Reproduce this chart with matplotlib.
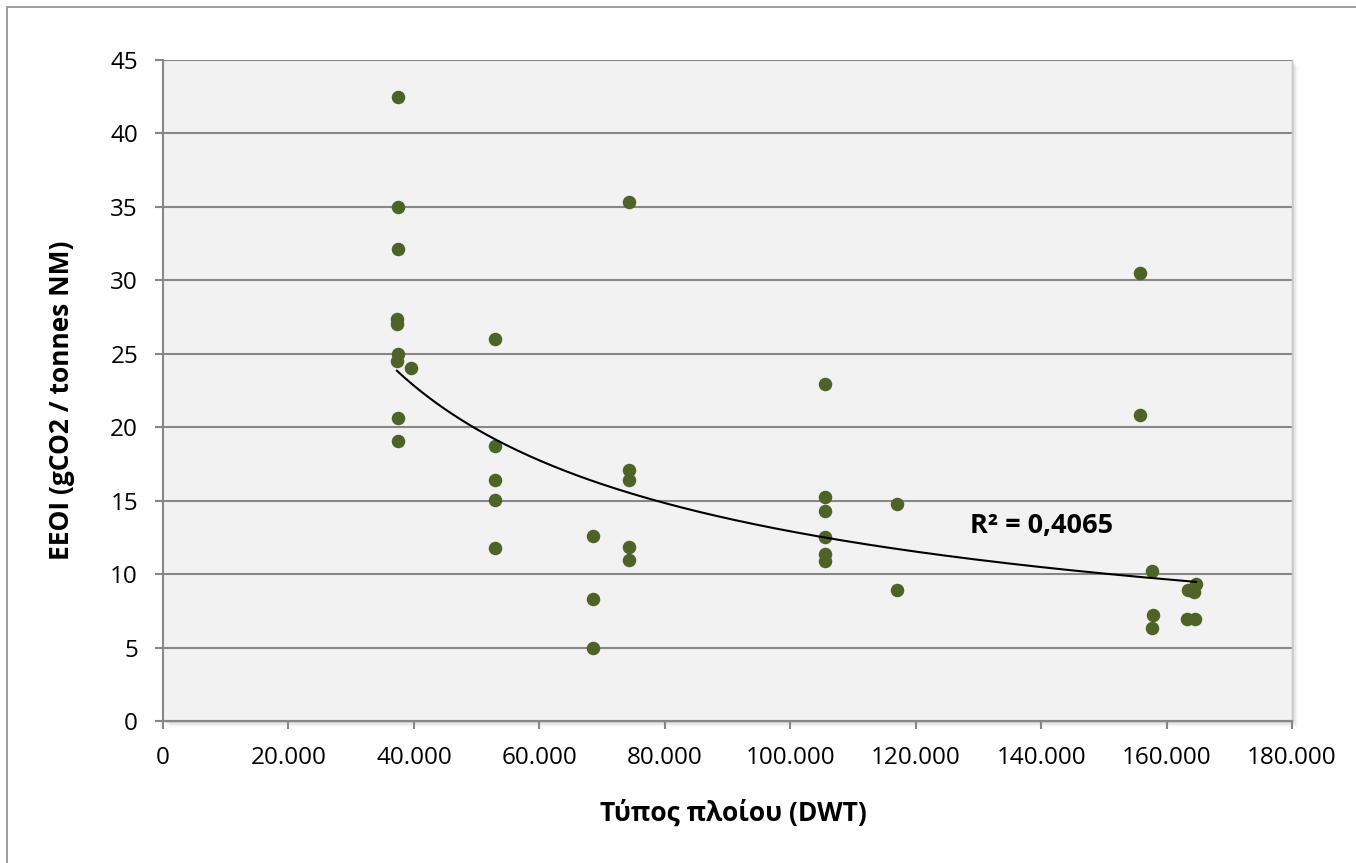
#!/usr/bin/env python3
# EEOI vs ship size scatter with power trendline

import numpy as np
import matplotlib
matplotlib.use('Agg')
import matplotlib.pyplot as plt
from matplotlib.patches import Rectangle
from matplotlib.ticker import FuncFormatter

# ship size (DWT) and EEOI (gCO2 / tonnes NM)
dwt = [37400, 37400, 37400, 37300, 37300, 37500, 37300, 39500, 37400, 37400,
       53000, 53000, 53000, 53000, 53000,
       68500, 68500, 68500,
       74300, 74300, 74300, 74300, 74300,
       105500, 105500, 105500, 105500, 105500, 105500,
       117100, 117100,
       155800, 155800, 157700, 157800, 157700,
       164700, 163400, 164400, 163300, 164600]
eeoi = [42.5, 35.0, 32.1, 27.4, 27.0, 25.0, 24.5, 24.0, 20.65, 19.05,
        26.0, 18.75, 16.4, 15.05, 11.75,
        12.6, 8.3, 4.95,
        35.3, 17.1, 16.4, 11.85, 10.95,
        22.95, 15.25, 14.3, 12.5, 11.35, 10.9,
        14.75, 8.95,
        30.5, 20.85, 10.2, 7.25, 6.3,
        9.35, 8.95, 8.8, 6.95, 6.92]
r2_text = "R² = 0,4065"

xlabel = "Τύπος πλοίου (DWT)"
ylabel = "EEOI (gCO2 / tonnes NM)"

GRID = "#878787"
DOT = "#4F6228"

def thousands(v, pos):
    # greek style: 20.000
    return f"{int(v):,}".replace(",", ".")

def main():
    plt.rcParams['font.family'] = ['Open Sans', 'DejaVu Sans']
    fig = plt.figure(figsize=(13.56, 8.63), dpi=100)

    # outer chart border (Excel chart area)
    fig.patches.append(Rectangle((7 / 1356, -0.05), 1.2, 1 - 7 / 863 + 0.05,
                                 transform=fig.transFigure, fill=False,
                                 edgecolor="#8C8C8C", lw=1.2))

    left, bottom = 163 / 1356, 1 - 721 / 863
    w, h = (1292 - 163) / 1356, (721 - 60) / 863
    ax = fig.add_axes([left, bottom, w, h])
    ax.set_zorder(2)

    # soft drop shadow behind the plot area
    for i, a in enumerate([0.10, 0.06, 0.03]):
        off = (i + 1) * 2
        fig.patches.append(Rectangle((left + off / 1356, bottom - off / 863), w, h,
                                     transform=fig.transFigure, facecolor="black",
                                     alpha=a, edgecolor="none", zorder=0))

    ax.set_facecolor("#F2F2F2")
    ax.set_xlim(0, 180000)
    ax.set_ylim(0, 45)
    ax.set_xticks(np.arange(0, 180001, 20000))
    ax.set_yticks(np.arange(0, 46, 5))
    ax.xaxis.set_major_formatter(FuncFormatter(thousands))

    ax.grid(axis='y', color=GRID, lw=1.5)
    ax.set_axisbelow(True)
    for s in ['left', 'bottom']:
        ax.spines[s].set_color(GRID)
        ax.spines[s].set_linewidth(1.5)
    ax.spines['top'].set_visible(False)
    ax.spines['right'].set_color("#C8C8C8")
    ax.spines['right'].set_linewidth(1.0)
    ax.tick_params(direction='out', length=6, width=1.5, color=GRID,
                   labelsize=17.5)
    ax.tick_params(axis='y', pad=12)
    ax.tick_params(axis='x', pad=12)

    ax.scatter(dwt, eeoi, s=95, color=DOT, zorder=3, linewidths=0)

    # power trendline (least squares in log-log space, like Excel)
    x = np.array(dwt, dtype=float)
    y = np.array(eeoi, dtype=float)
    k, c = np.polyfit(np.log(x), np.log(y), 1)
    xs = np.linspace(x.min(), x.max(), 200)
    ax.plot(xs, np.exp(c) * xs ** k, color="black", lw=1.5, zorder=4)

    ax.text(140000, 13.3, r2_text, fontsize=19.5, fontweight='bold',
            ha='center', va='center')

    fig.text(733 / 1356, 1 - 813 / 863, xlabel, fontsize=19, fontweight='bold',
             ha='center', va='center')
    fig.text(62 / 1356, 1 - 400 / 863, ylabel, fontsize=19, fontweight='bold',
             ha='center', va='center', rotation=90)

    plt.savefig("out.png", dpi=100)

if __name__ == "__main__":
    main()
